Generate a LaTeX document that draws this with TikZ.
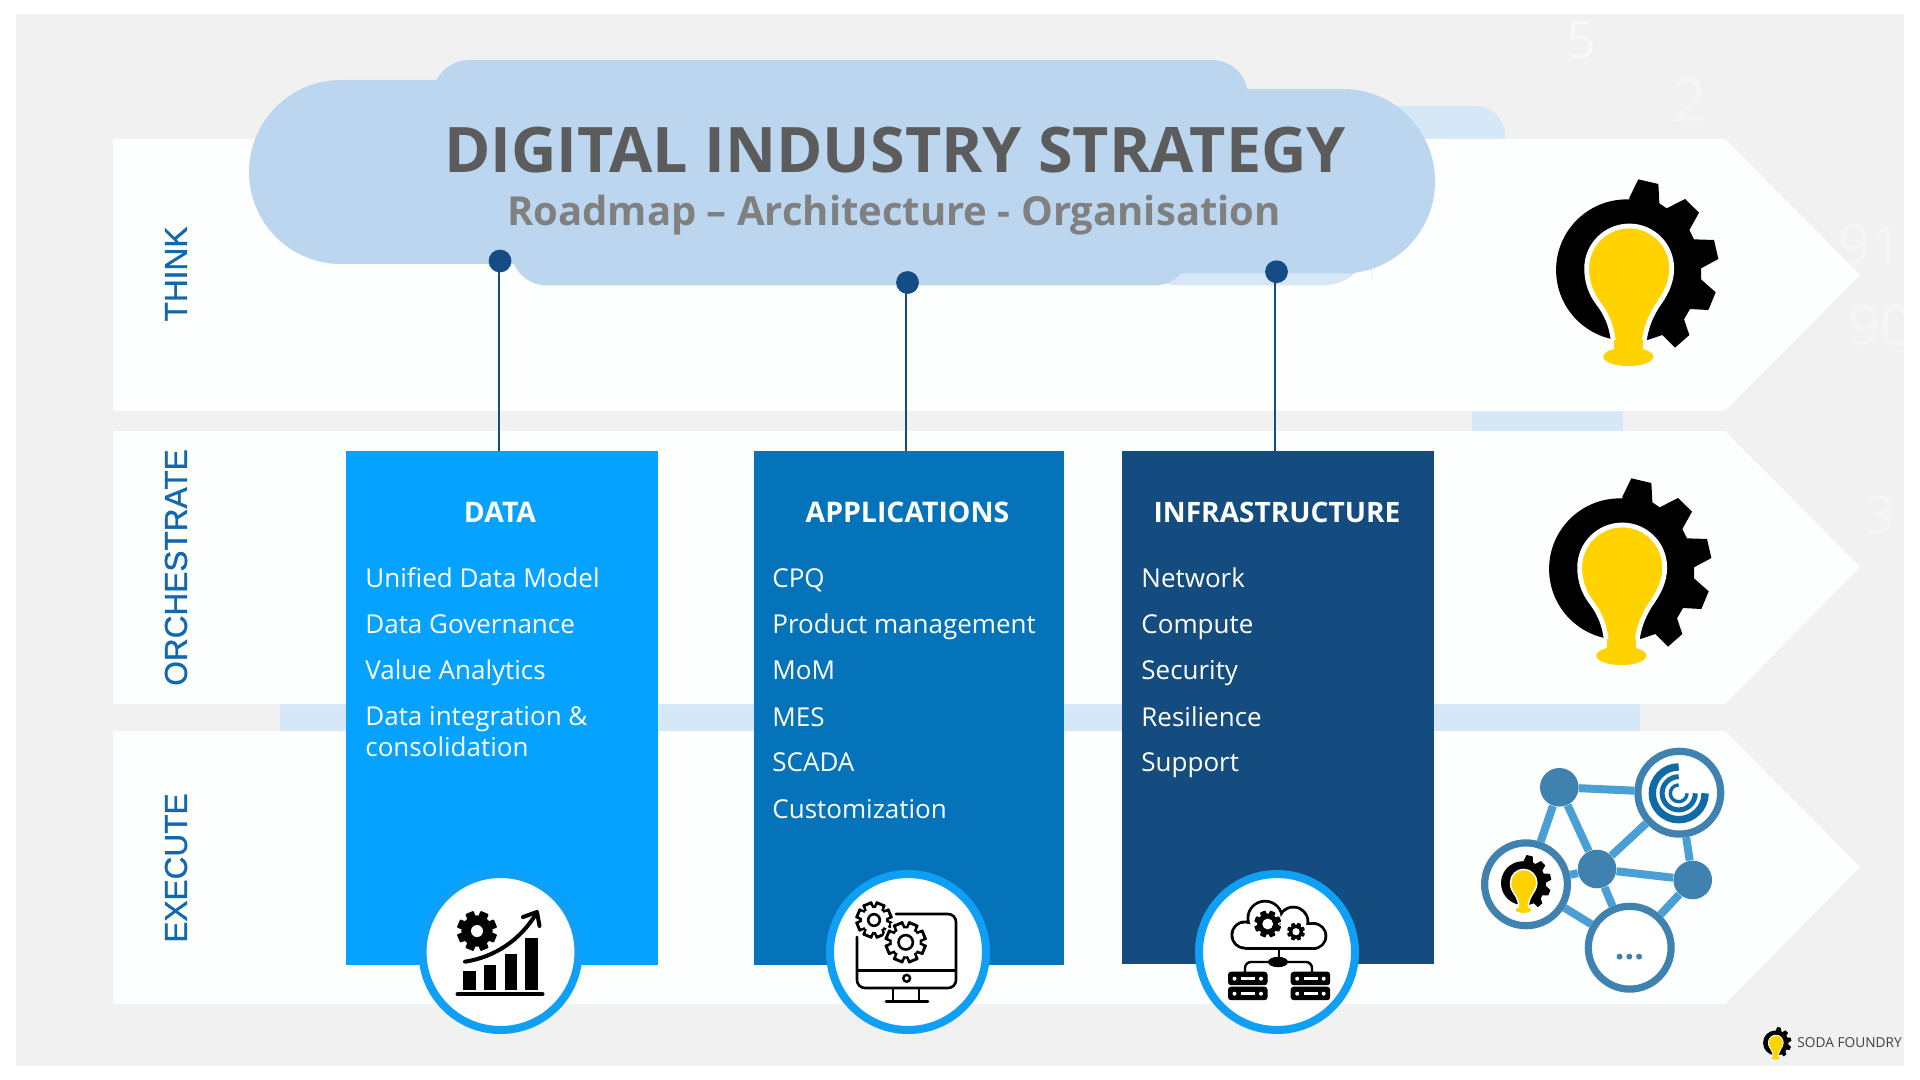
\documentclass[tikz,border=0pt]{standalone}
\usepackage{fontspec}
\setmainfont{Open Sans}
\newfontfamily\labelfont[RawFeature={embolden=1.0}]{Liberation Sans}
\definecolor{panel}{HTML}{F1F1F1}
\definecolor{bandc}{HTML}{FDFEFE}
\definecolor{cloudc}{HTML}{BDD6F0}
\definecolor{palec}{HTML}{D6E7F8}
\definecolor{navy}{HTML}{154C84}
\definecolor{cardA}{HTML}{05A2FF}
\definecolor{cardB}{HTML}{0573BA}
\definecolor{cardC}{HTML}{154C80}
\definecolor{ringc}{HTML}{0F9FF5}
\definecolor{sidec}{HTML}{1268AE}
\definecolor{netedge}{HTML}{4A9FD4}
\definecolor{netnode}{HTML}{3F82AF}
\definecolor{spiral}{HTML}{0F6AA5}
\definecolor{bulbc}{HTML}{FFD200}
\tikzset{
  bandbox/.style={fill=bandc,draw=none},
  sidelabel/.style={rotate=90,text=sidec,font=\labelfont\fontsize{15.8}{18}\selectfont,inner sep=0pt},
  cardbox/.style={draw=none,inner sep=0pt,minimum width=#1},
  cardtitle/.style={text=white,font=\bfseries\fontsize{14.2}{16}\selectfont,inner sep=0pt},
  carditem/.style={text=white,font=\fontsize{13}{15.5}\selectfont,anchor=base west,inner sep=0pt},
  carditemtwo/.style={text=white,font=\fontsize{13}{15.5}\selectfont,anchor=west,inner sep=0pt,align=left},
  pin/.style={circle,fill=navy,minimum size=11.4pt,inner sep=0pt},
  pinline/.style={draw=navy,line width=1pt},
  iconring/.style={circle,draw=ringc,fill=white,line width=4pt,minimum size=78pt,inner sep=0pt},
  netdot/.style={circle,fill=netnode,minimum size=19.3pt,inner sep=0pt},
  netring/.style={circle,draw=netnode,fill=white,line width=3.6pt,minimum size=41.4pt,inner sep=0pt},
  netlink/.style={draw=netedge,line width=4pt},
  faintdigit/.style={text=white,inner sep=0pt},
}
\newcommand{\logoicon}[3]{%
  \begin{scope}[shift={(#1,#2)},x={#3*0.16667pt},y={-#3*0.16667pt}]
    \fill[black] (380,330) circle[radius={#3*35.3pt}];
    \fill[black] (388,113) -- (415,58) -- (475,72) -- (478,130) -- (500,145) -- (555,117) -- (597,158) -- (568,210) -- (582,238) -- (642,240) -- (655,297) -- (603,325) -- (603,358) -- (647,397) -- (625,450) -- (570,447) -- (552,478) -- (568,525) -- (525,563) -- (487,525) -- (442,540) -- (380,500) -- (380,330) -- cycle;
    \path[fill=bulbc,draw=white,line width={#3*2.4pt},line join=round] (342,575) .. controls (340,510) and (325,470) .. (295,430) .. controls (272,400) and (260,365) .. (260,325) .. controls (260,255) and (317,198) .. (388,198) .. controls (458,198) and (515,255) .. (515,325) .. controls (515,370) and (495,405) .. (470,440) .. controls (445,480) and (432,520) .. (430,575) -- cycle;
    \fill[bulbc] (342,540) rectangle (430,585);
    \fill[bulbc] (385,590) ellipse[x radius={#3*12.5pt},y radius={#3*4.7pt}];
  \end{scope}}
% centre x, centre y, radius (px), colour, tooth half width (px)
\newcommand{\gearsil}[5]{%
  \fill[#4] (#1,#2) circle[radius={#3*0.39pt}];
  \foreach \a in {0,45,...,315}{%
    \fill[#4,shift={(#1,#2)},rotate=\a+22.5,rounded corners=.4pt] ({-#5*0.5pt},0pt) rectangle ({#5*0.5pt},{#3*0.5pt});}}
\newcommand{\serverunit}[2]{%
  \fill[black,rounded corners=1.5pt] (#1,#2) rectangle (#1+39.5,#2+13.5);
  \fill[white] (#1+6.5,#2+7) circle[radius=1pt];
  \fill[white] (#1+33,#2+7) circle[radius=1pt];
  \fill[white] (#1+13,#2+5.5) rectangle (#1+27,#2+8.5);}
\begin{document}
\begin{tikzpicture}[x=0.5pt,y=-0.5pt]
\useasboundingbox (0,0) rectangle (1920,1080);
\fill[white] (0,0) rectangle (1920,1080);
\fill[panel] (16,14) rectangle (1904,1066);
% faint background numerals
\node[faintdigit,opacity=.5,font=\fontsize{26}{28}\selectfont] (w5) at (1581,40) {5};
\node[faintdigit,opacity=.3,font=\fontsize{30}{32}\selectfont] (w2) at (1690,100) {2};
\node[faintdigit,opacity=.35,font=\fontsize{28}{30}\selectfont] (w91) at (1870,245) {91};
\node[faintdigit,opacity=.35,font=\fontsize{28}{30}\selectfont] (w90) at (1880,325) {90};
\node[faintdigit,opacity=.35,font=\fontsize{26}{28}\selectfont] (w3) at (1880,515) {3};
% pale layers behind the bands
\fill[palec,rounded corners=15pt] (1300,106) rectangle (1505,300);
\fill[palec] (1472,405) rectangle (1623,435);
\fill[palec] (280,700) rectangle (1640,735);
% bands
\fill[bandbox] (113,139) -- (1725,139) -- (1860,275) -- (1725,411) -- (113,411) -- cycle;
\fill[bandbox] (113,431) -- (1725,431) -- (1860,567) -- (1725,704) -- (113,704) -- cycle;
\fill[bandbox] (113,731) -- (1725,731) -- (1860,867) -- (1725,1004) -- (113,1004) -- cycle;
% side labels
\node[sidelabel] (think) at (176,274) {THINK};
\node[sidelabel] (orch) at (176,567.5) {ORCHESTRATE};
\node[sidelabel] (exec) at (176,868) {EXECUTE};
% cloud
\fill[palec,rounded corners=25pt] (1130,230) rectangle (1372,285.5);
\fill[cloudc,rounded corners=46pt] (249,80) rectangle (800,264);
\fill[cloudc,rounded corners=18pt] (433,60) rectangle (1248,200);
\fill[cloudc,rounded corners=18pt] (511,190) rectangle (1190,285.5);
\fill[cloudc,rounded corners=46pt] (1000,89) rectangle (1435,273.5);
\node[inner sep=0pt,text=black!64,font=\bfseries\fontsize{31.4}{36}\selectfont] (title) at (895,150) {DIGITAL INDUSTRY STRATEGY};
\node[inner sep=0pt,text=black!50,font=\bfseries\fontsize{20}{22}\selectfont] (subtitle) at (894,215.5) {Roadmap – Architecture - Organisation};
% cards
\node[cardbox=156pt,fill=cardA,minimum height=257pt] (cardA) at (502,708) {};
\node[cardbox=155pt,fill=cardB,minimum height=257pt] (cardB) at (909,708) {};
\node[cardbox=156pt,fill=cardC,minimum height=256.5pt] (cardC) at (1278,707.5) {};
% pins and connectors
\node[pin] (pinA) at (500,261) {};
\node[pin] (pinB) at (907.5,282.5) {};
\node[pin] (pinC) at (1276.5,271.7) {};
\draw[pinline] ([xshift=-.6pt]pinA.center) -- ([xshift=-.6pt]pinA.center |- cardA.north);
\draw[pinline] ([xshift=-.6pt]pinB.center) -- ([xshift=-.6pt]pinB.center |- cardB.north);
\draw[pinline] ([xshift=-.6pt]pinC.center) -- ([xshift=-.6pt]pinC.center |- cardC.north);
% card text
\node[cardtitle] (tA) at (500,512) {DATA};
\node[cardtitle] (tB) at (907.5,512) {APPLICATIONS};
\node[cardtitle,font=\bfseries\fontsize{14.05}{16}\selectfont] (tC) at (1277,512) {INFRASTRUCTURE};
\node[carditem] (a1) at (365,587) {Unified Data Model};
\node[carditem] (a2) at (365,633.4) {Data Governance};
\node[carditem] (a3) at (365,679.7) {Value Analytics};
\node[carditemtwo] (a4) at (365,732) {Data integration \&\\consolidation};
\node[carditem] (b1) at (772,587) {CPQ};
\node[carditem] (b2) at (772,633.4) {Product management};
\node[carditem] (b3) at (772,679.7) {MoM};
\node[carditem] (b4) at (772,726) {MES};
\node[carditem] (b5) at (772,771.5) {SCADA};
\node[carditem] (b6) at (772,818) {Customization};
\node[carditem] (c1) at (1141,587) {Network};
\node[carditem] (c2) at (1141,633.4) {Compute};
\node[carditem] (c3) at (1141,679.7) {Security};
\node[carditem] (c4) at (1141,726) {Resilience};
\node[carditem] (c5) at (1141,771.5) {Support};
% icon circles
\node[iconring] (iconA) at (500.5,952) {};
\node[iconring] (iconB) at (908,952) {};
\node[iconring] (iconC) at (1277,952) {};
% chart icon
\gearsil{477}{931}{20}{black}{4.4}
\fill[white] (477,931) circle[radius=3pt];
\fill[black] (463.3,970.7) rectangle (476,990);
\fill[black] (483.7,965) rectangle (496.3,990);
\fill[black] (504.5,954.3) rectangle (517,990);
\fill[black] (525,937.7) rectangle (537.5,990);
\draw[black,line width=2pt,line cap=round] (457.5,994.3) -- (542.5,994.3);
\draw[black,line width=2pt,line cap=round] (465,961.7) .. controls (495,957) and (520,940) .. (536,914);
\draw[black,line width=2pt,line cap=round,line join=round] (523,917) -- (537,912) -- (539.5,926);
% applications icon
\draw[black,line width=1.3pt,rounded corners=4pt,line cap=round] (857,937) -- (857,988) -- (956,988) -- (956,914) -- (896,914);
\draw[black,line width=1.3pt] (857,970.7) -- (956,970.7);
\draw[black,line width=1.2pt] (906.7,978.3) circle[radius=1.7pt];
\draw[black,line width=1.3pt] (893,988) -- (893,1001);
\draw[black,line width=1.3pt] (919,988) -- (919,1001);
\draw[black,line width=1.4pt,line cap=round] (886,1001.5) -- (928,1001.5);
\gearsil{874}{920}{18.5}{black}{5.3}\gearsil{874}{920}{15.5}{white}{2.8}
\draw[black,line width=1.3pt] (874,920) circle[radius=2.9pt];
\gearsil{905.7}{942.3}{23}{white}{7}
\gearsil{905.7}{942.3}{21}{black}{5.6}\gearsil{905.7}{942.3}{18}{white}{3}
\draw[black,line width=1.3pt] (905.7,942.3) circle[radius=3.6pt];
% infrastructure icon
\fill[black] (1245,935) circle[radius=7.25pt] (1265,918.3) circle[radius=9.25pt] (1293.3,921.7) circle[radius=8pt] (1313.3,936) circle[radius=7pt];
\fill[black] (1245,925) rectangle (1313,950);
\fill[white] (1245,935) circle[radius=5.85pt] (1265,918.3) circle[radius=7.85pt] (1293.3,921.7) circle[radius=6.6pt] (1313.3,936) circle[radius=5.6pt];
\fill[white] (1245,925) rectangle (1313,947.2);
\gearsil{1267.7}{924}{13.5}{black}{3}
\fill[white] (1267.7,924) circle[radius=2.7pt];
\gearsil{1296}{931.7}{9}{black}{2}
\fill[white] (1296,931.7) circle[radius=1.8pt];
\draw[black,line width=1.2pt] (1278.7,950) -- (1278.7,958);
\fill[black] (1278,962) ellipse[x radius=5pt,y radius=2.6pt];
\draw[black,line width=1.2pt,rounded corners=3pt] (1278,962) -- (1245,962) -- (1245,972);
\draw[black,line width=1.2pt,rounded corners=3pt] (1278,962) -- (1312,962) -- (1312,972);
\serverunit{1228}{971.7}\serverunit{1228}{986.7}
\serverunit{1290.7}{971.7}\serverunit{1290.7}{986.7}
% bulb logos
\logoicon{1500}{160}{1}
\logoicon{1493}{459}{1}
\logoicon{1753.2}{1023.6}{.175}
\node[inner sep=0pt,anchor=west,text=black!75,font=\fontsize{6.85}{9}\selectfont] (brand) at (1797,1043) {SODA FOUNDRY};
% network
\node[netdot] (nA) at (1559.3,787.3) {};
\node[netdot] (nB) at (1597,869) {};
\node[netdot] (nC) at (1692.7,880) {};
\node[netring] (nG) at (1679.3,792.7) {};
\node[netring] (nL) at (1526,884.3) {};
\node[netring] (nD) at (1629.7,947.7) {};
\draw[netlink] (nA) -- (nG);
\draw[netlink] (nA) -- (nL);
\draw[netlink] (nA) -- (nB);
\draw[netlink] (nB) -- (nG);
\draw[netlink] (nB) -- (nC);
\draw[netlink] (nG) -- (nC);
\draw[netlink] (nL) -- (nB);
\draw[netlink] (nB) -- (nD);
\draw[netlink] (nL) -- (nD);
\draw[netlink] (nC) -- (nD);
\draw[spiral,line width=3.7pt] (1678.7,793.3) ++(90:13.2pt) arc[start angle=90,end angle=360,radius=13.2pt];
\draw[spiral,line width=2.5pt] (1678.7,793.3) ++(90:8.3pt) arc[start angle=90,end angle=360,radius=8.3pt];
\draw[spiral,line width=1.7pt] (1678.7,793.3) ++(90:4.2pt) arc[start angle=90,end angle=360,radius=4.2pt];
\logoicon{1483.6}{849}{.31}
\node[inner sep=0pt,text=netnode,font=\bfseries\fontsize{17}{19}\selectfont] (more) at (1629.5,957) {...};
\end{tikzpicture}
\end{document}
